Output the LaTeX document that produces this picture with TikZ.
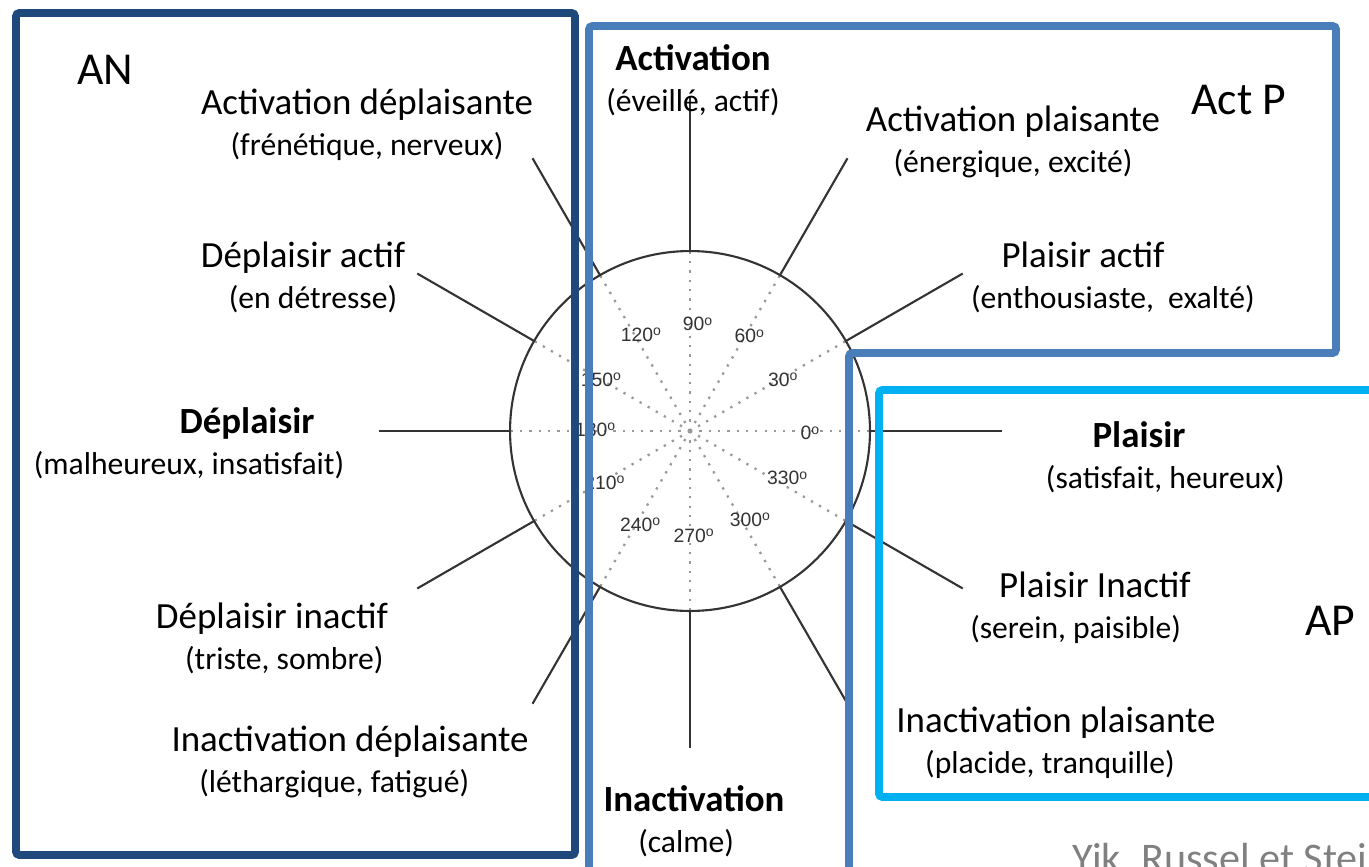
\documentclass[tikz,border=0pt]{standalone}
\usepackage{fontspec}
\setmainfont{Carlito}
\newfontfamily\dialfont{Liberation Sans}
\usetikzlibrary{positioning}
\definecolor{navyframe}{HTML}{1F497D}
\definecolor{steelframe}{HTML}{4A7EBB}
\definecolor{cyanframe}{HTML}{00B0F0}
\definecolor{dialgray}{HTML}{333333}
\definecolor{creditgray}{HTML}{808080}
\newcommand{\degmark}{\raisebox{0.55ex}{\fontsize{8}{8}\selectfont o}}

\begin{document}
\begin{tikzpicture}[
        x=0.02cm, y=-0.02cm,
        node distance=6pt,
        every node/.style={inner sep=0pt},
        mainlabel/.style={font=\fontsize{21}{24}\selectfont, text height=15pt, text depth=4pt},
        boldlabel/.style={mainlabel, font=\fontsize{21}{24}\selectfont\bfseries},
        desclabel/.style={font=\fontsize{18}{21}\selectfont, text height=13pt, text depth=4pt},
        framelabel/.style={font=\fontsize{26}{30}\selectfont},
        deglabel/.style={font=\dialfont\fontsize{11}{13}\selectfont, text=dialgray},
        creditlabel/.style={font=\fontsize{24}{28}\selectfont, text=creditgray},
        spoke/.style={line width=1.2pt, draw=black!80},
        radial/.style={line width=1.3pt, draw=black!40, dash pattern=on 1.3pt off 4pt},
        frame/.style={line width=4.5pt, rounded corners=2pt}
    ]
    \useasboundingbox (0,0) rectangle (1369,866);
    \clip (0,0) rectangle (1369,866);

    % Dial
    \coordinate (c) at (690,431);
    \foreach \a in {0,30,...,330}
        \draw[radial] (c) -- ([shift={(\a:3.6cm)}]c);
    \draw[spoke] (c) circle[radius=3.6cm];
    \foreach \a/\r in {0/6.24,30/6.3,60/6.3,90/6.7,120/6.3,150/6.3,180/6.22,210/6.3,240/6.3,270/6.34,300/6.3,330/6.3}
        \draw[spoke] ([shift={(\a:3.6cm)}]c) -- ([shift={(\a:\r cm)}]c);
    \foreach \a/\p/\r in {0/-1/2.4,30/29/2.12,60/58/2.24,90/86/2.14,120/117/2.16,150/150/2.06,
                          180/179/1.9,210/211/2.0,240/242/2.12,270/272/2.1,300/304/2.14,330/334/2.16}
        \node[deglabel] (deg\a) at ([shift={(\p:\r cm)}]c) {\a\degmark};

    % Nodes
    \node[mainlabel] (act_neg) at (367,105) {Activation déplaisante};
    \node[mainlabel] (neg_act) at (303,258) {Déplaisir actif};
    \node[boldlabel] (neg) at (247,424) {Déplaisir};
    \node[mainlabel] (neg_inact) at (272,619) {Déplaisir inactif};
    \node[mainlabel] (inact_neg) at (350,742) {Inactivation déplaisante};
    \node[boldlabel] (act) at (693,61) {Activation};
    \node[boldlabel] (inact) at (694,802) {Inactivation};
    \node[mainlabel] (act_pos) at (1013,122) {Activation plaisante};
    \node[mainlabel] (pos_act) at (1083,258) {Plaisir actif};
    \node[boldlabel] (pos) at (1139,438) {Plaisir};
    \node[mainlabel] (pos_inact) at (1095,588) {Plaisir Inactif};
    \node[mainlabel] (inact_pos) at (1056,723) {Inactivation plaisante};

    % Descriptions
    \node[desclabel, below=of act_neg] (act_neg_desc) {(frénétique, nerveux)};
    \node[desclabel, below=of neg_act, xshift=5.7pt] (neg_act_desc) {(en détresse)};
    \node[desclabel, below=of neg, xshift=-33pt] (neg_desc) {(malheureux, insatisfait)};
    \node[desclabel, below=of neg_inact, xshift=7pt] (neg_inact_desc) {(triste, sombre)};
    \node[desclabel, below=of inact_neg, xshift=-9pt] (inact_neg_desc) {(léthargique, fatigué)};
    \node[desclabel, below=of act] (act_desc) {(éveillé, actif)};
    \node[desclabel, below=of inact, xshift=-4.5pt] (inact_desc) {(calme)};
    \node[desclabel, below=of act_pos] (act_pos_desc) {(énergique, excité)};
    \node[desclabel, below=of pos_act, xshift=17pt] (pos_act_desc) {(enthousiaste,\ \ exalté)};
    \node[desclabel, below=of pos, xshift=15pt] (pos_desc) {(satisfait, heureux)};
    \node[desclabel, below=of pos_inact, xshift=-11pt] (pos_inact_desc) {(serein, paisible)};
    \node[desclabel, below=of inact_pos, xshift=-3.4pt] (inact_pos_desc) {(placide, tranquille)};

    % Frames
    \draw[frame, navyframe] (16,13) rectangle (575,855);
    \draw[frame, steelframe] (849,900) -- (849,353) -- (1336,353) -- (1336,26) -- (589,26) -- (589,900);
    \draw[frame, cyanframe] (1400,390) -- (879,390) -- (879,797) -- (1400,797);
    \node[framelabel] (an) at (105,70) {AN};
    \node[framelabel] (actp) at (1239,100) {Act P};
    \node[framelabel] (ap) at (1330,621) {AP};
    \node[creditlabel, anchor=base west] (credit) at (1072,872) {Yik, Russel et Steiner};
\end{tikzpicture}
\end{document}
